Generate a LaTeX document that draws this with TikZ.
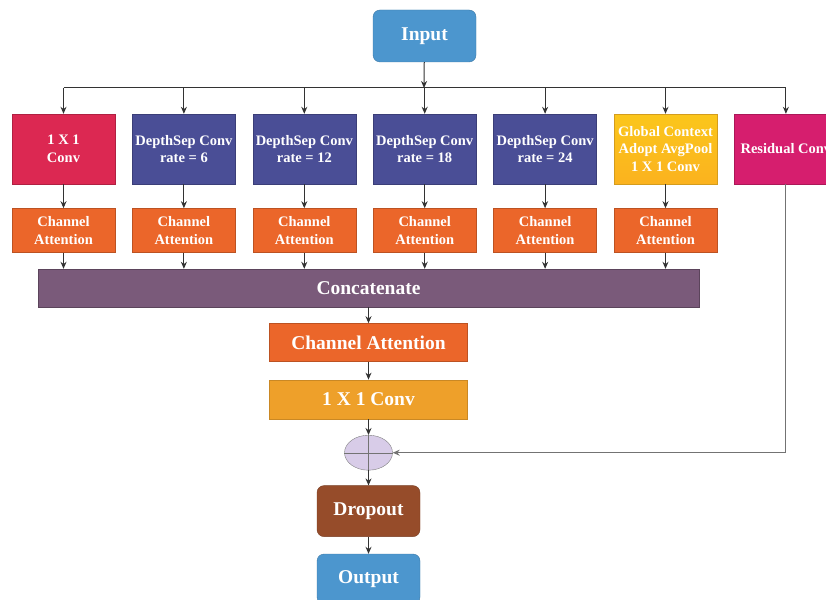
\documentclass[tikz,border=0pt]{standalone}
\usepackage{fontspec}
\setmainfont{Liberation Serif}
\usetikzlibrary{positioning}
\usetikzlibrary{arrows.meta, shapes.geometric}

\definecolor{ioblue}{RGB}{76,150,206}
\definecolor{convred}{RGB}{220,40,82}
\definecolor{sepblue}{RGB}{74,78,150}
\definecolor{gcamber}{RGB}{250,184,34}
\definecolor{resmagenta}{RGB}{214,30,110}
\definecolor{attorange}{RGB}{235,102,42}
\definecolor{catpurple}{RGB}{122,90,122}
\definecolor{convamber}{RGB}{238,160,42}
\definecolor{pluslilac}{RGB}{216,204,232}
\definecolor{dropbrown}{RGB}{150,76,42}

\begin{document}
\begin{tikzpicture}[x=1pt, y=-1pt, >={Stealth[length=7pt,width=6pt]},
            smallbox/.style={rectangle, text=white, align=center, inner xsep=0pt, font=\fontsize{14.5}{17.5}\selectfont\bfseries, minimum width=103pt},
            bigbox/.style={rectangle, text=white, align=center, font=\fontsize{19.5}{22}\selectfont\bfseries},
            rednode/.style={smallbox, draw=convred!80!black, fill=convred, minimum height=70pt},
            slatenode/.style={smallbox, draw=sepblue!80!black, fill=sepblue, minimum height=70pt},
            ambernode/.style={smallbox, draw=gcamber!85!black, top color=gcamber!80!yellow, bottom color=gcamber!90!orange, minimum height=70pt},
            magentanode/.style={smallbox, draw=resmagenta!80!black, fill=resmagenta, minimum height=70pt},
            orangenode/.style={smallbox, draw=attorange!80!black, fill=attorange, minimum height=44pt},
            bluenode/.style={bigbox, rounded corners=7pt, draw=ioblue!80!black, fill=ioblue, minimum width=103pt},
            link/.style={->, draw=black!80, line width=1pt},
            ]
            % input and bus
            \useasboundingbox (0,0) rectangle (826,599);
            \node[bluenode, minimum height=52pt] (input) at (424.5,36) {Input};
            \coordinate (bus) at (424,88);

            % branches
            \node[rednode] (c1) at (63.5,149) {1 X 1\\Conv};
            \node[slatenode, right=17pt of c1] (c2) {DepthSep Conv\\rate = 6};
            \node[slatenode, right=17pt of c2] (c3) {DepthSep Conv\\rate = 12};
            \node[slatenode, right=17pt of c3] (c4) {DepthSep Conv\\rate = 18};
            \node[slatenode, right=17pt of c4] (c5) {DepthSep Conv\\rate = 24};
            \node[ambernode, right=17pt of c5] (c6) {Global Context\\Adopt AvgPool\\1 X 1 Conv};
            \node[magentanode, right=17pt of c6] (res) {Residual Conv};

            \node[orangenode, below=24pt of c1] (ca1) {Channel\\Attention};
            \node[orangenode, below=24pt of c2] (ca2) {Channel\\Attention};
            \node[orangenode, below=24pt of c3] (ca3) {Channel\\Attention};
            \node[orangenode, below=24pt of c4] (ca4) {Channel\\Attention};
            \node[orangenode, below=24pt of c5] (ca5) {Channel\\Attention};
            \node[orangenode, below=24pt of c6] (ca6) {Channel\\Attention};

            % fusion
            \node[bigbox, draw=catpurple!75!black, fill=catpurple, minimum width=661pt, minimum height=38pt] (concat) at (368.5,288) {Concatenate};
            \node[bigbox, draw=attorange!80!black, fill=attorange, minimum width=198pt, minimum height=38pt, below=16pt of concat] (ca) {Channel Attention};
            \node[bigbox, draw=convamber!85!black, fill=convamber, minimum width=198pt, minimum height=39pt, below=18pt of ca] (conv) {1 X 1 Conv};
            \node[ellipse, draw=black!50, fill=pluslilac, minimum width=48pt, minimum height=35pt, inner sep=0pt, below=16pt of conv] (plus) {};
            \draw[black!55] (plus.north) -- (plus.south) (plus.west) -- (plus.east);
            \node[bluenode, draw=dropbrown!80!black, fill=dropbrown, minimum height=51pt, below=15pt of plus] (drop) {Dropout};
            \node[bluenode, minimum height=50pt, below=17pt of drop] (output) {Output};

            % connectors
            \draw[link] (input) -- (bus);
            \draw[black!80, line width=1pt] (c1 |- bus) -- (res |- bus);
            \draw[link] (c1 |- bus) -- (c1);
            \draw[link] (c2 |- bus) -- (c2);
            \draw[link] (c3 |- bus) -- (c3);
            \draw[link] (c4 |- bus) -- (c4);
            \draw[link] (c5 |- bus) -- (c5);
            \draw[link] (c6 |- bus) -- (c6);
            \draw[link] (res |- bus) -- (res);
            \draw[link] (c1) -- (ca1);
            \draw[link] (c2) -- (ca2);
            \draw[link] (c3) -- (ca3);
            \draw[link] (c4) -- (ca4);
            \draw[link] (c5) -- (ca5);
            \draw[link] (c6) -- (ca6);
            \draw[link] (ca1) -- (ca1 |- concat.north);
            \draw[link] (ca2) -- (ca2 |- concat.north);
            \draw[link] (ca3) -- (ca3 |- concat.north);
            \draw[link] (ca4) -- (ca4 |- concat.north);
            \draw[link] (ca5) -- (ca5 |- concat.north);
            \draw[link] (ca6) -- (ca6 |- concat.north);
            \draw[link] (concat) -- (ca);
            \draw[link] (ca) -- (conv);
            \draw[link] (conv) -- (plus);
            \draw[link] (plus) -- (drop);
            \draw[link] (drop) -- (output);
            \draw[link, draw=black!55] (res) -- (res |- plus) -- (plus);
\end{tikzpicture}
\end{document}
